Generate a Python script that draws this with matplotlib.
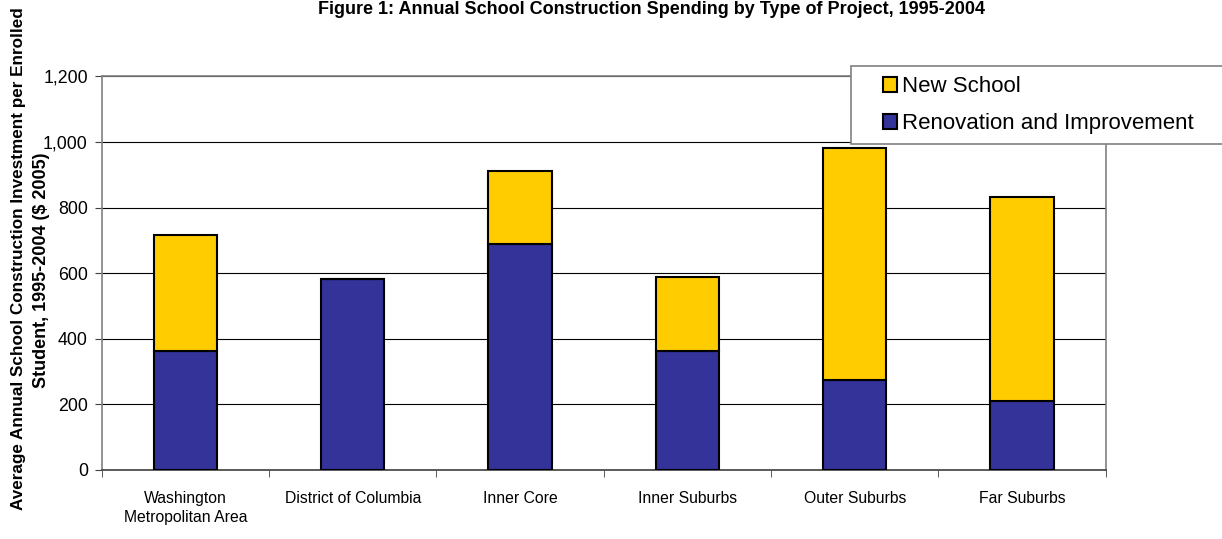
import numpy as np
import matplotlib
matplotlib.use("Agg")
import matplotlib.pyplot as plt
from matplotlib.patches import Rectangle
from matplotlib.ticker import FuncFormatter, FixedLocator

plt.rcParams['font.family'] = ['Liberation Sans', 'DejaVu Sans']

regions = ["Washington\nMetropolitan Area", "District of Columbia", "Inner Core",
           "Inner Suburbs", "Outer Suburbs", "Far Suburbs"]
renovation = [363, 582, 689, 364, 274, 210]
new_school = [353, 0, 222, 224, 708, 622]

W, H = 1222, 539
fig = plt.figure(figsize=(W / 100, H / 100), dpi=100)
ax = fig.add_axes([101.7 / W, 1 - 470 / H, 1004 / W, 393.7 / H])

x = np.arange(len(regions))
width = 0.38
ax.bar(x, renovation, width, color="#333399", edgecolor="black", linewidth=1.5,
       label="Renovation and Improvement", zorder=3)
ax.bar(x, new_school, width, bottom=renovation, color="#FFCC00", edgecolor="black",
       linewidth=1.5, label="New School", zorder=3)

ax.set_xlim(-0.5, len(regions) - 0.5)
ax.set_ylim(0, 1200)
ax.set_yticks(range(0, 1201, 200))
ax.yaxis.set_major_formatter(FuncFormatter(lambda v, p: f"{int(v):,}"))
ax.yaxis.grid(True, color="black", linewidth=0.8, zorder=0)

ax.set_xticks(x)
ax.set_xticklabels(regions, fontsize=11.3, linespacing=1.35)
ax.xaxis.set_minor_locator(FixedLocator(np.arange(-0.5, len(regions), 1)))
ax.tick_params(axis="x", which="major", length=0, pad=15)
ax.tick_params(axis="x", which="minor", length=5, color="#404040")
ax.tick_params(axis="y", length=5, color="#404040", labelsize=12.8, pad=5)

for side in ["left", "right", "top"]:
    ax.spines[side].set_color("#808080")
    ax.spines[side].set_linewidth(1.2)
ax.spines["bottom"].set_color("#404040")
ax.spines["bottom"].set_linewidth(1.2)

fig.text(651 / W, 1 - 10 / H,
         "Figure 1: Annual School Construction Spending by Type of Project, 1995-2004",
         ha="center", va="center", fontsize=13, fontweight="bold")

# two-line y label, each line placed on its own
fig.text(19 / W, 1 - 259 / H,
         "Average Annual School Construction Investment per Enrolled",
         ha="center", va="center", rotation=90, fontsize=12.3, fontweight="bold")
fig.text(42 / W, 1 - 270 / H, "Student, 1995-2004 ($ 2005)",
         ha="center", va="center", rotation=90, fontsize=13, fontweight="bold")

# legend box drawn separately so it can run off the right edge
fig.patches.append(Rectangle((851 / W, 1 - 144 / H), 400 / W, 78 / H,
                             transform=fig.transFigure, facecolor="white",
                             edgecolor="#808080", linewidth=1.2, zorder=4))
handles, labels = ax.get_legend_handles_labels()
leg = fig.legend(handles[::-1], labels[::-1], loc="upper left",
                 bbox_to_anchor=(883 / W, 1 - 76 / H), fontsize=16,
                 frameon=False, handlelength=0.65, handleheight=0.65,
                 handletextpad=0.2, borderpad=0, labelspacing=0.72,
                 borderaxespad=0)
leg.set_zorder(5)

fig.savefig("out.png", dpi=100)
